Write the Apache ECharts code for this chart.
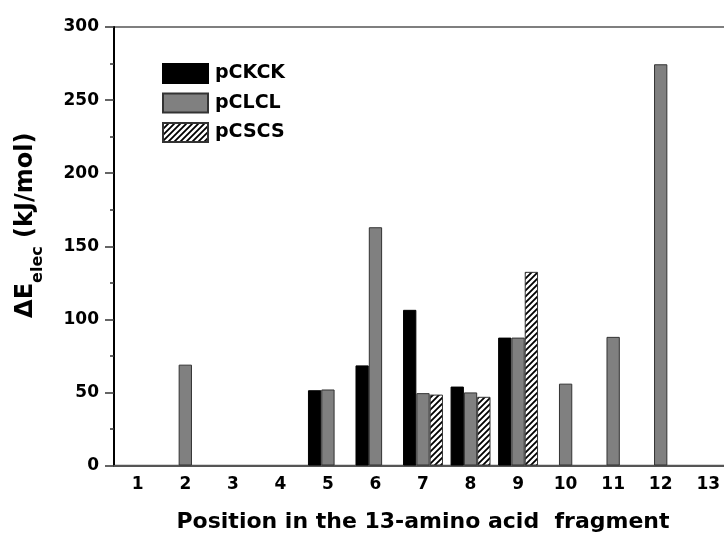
<!DOCTYPE html>
<html lang="en">
<head>
  <meta charset="UTF-8">
  <title>ΔE elec by position</title>
  <script src="https://cdn.jsdelivr.net/npm/echarts@6/dist/echarts.min.js"></script>
  <style>
    body { margin: 0; padding: 0; background: #fff; }
    #chart { width: 724px; height: 537px; }
  </style>
</head>
<body>
<div id="chart"></div>
<script>
  // positions along the 13-amino acid fragment
  const positions = ['1', '2', '3', '4', '5', '6', '7', '8', '9', '10', '11', '12', '13'];
  const seriesNames = ['pCKCK', 'pCLCL', 'pCSCS'];
  // ΔE elec values (kJ/mol), null = no bar
  const pCKCK = [null, null, null, null, 51.5, 68.5, 106.5, 54, 87.5, null, null, null, null];
  const pCLCL = [null, 69, null, null, 52, 163, 49.5, 50, 87.5, 56, 88, 274.5, null];
  const pCSCS = [null, null, null, null, null, null, 48.5, 47, 132.5, null, null, null, null];

  // hatch pattern for pCSCS
  const hatch = document.createElement('canvas');
  hatch.width = 6;
  hatch.height = 6;
  const ctx = hatch.getContext('2d');
  ctx.fillStyle = '#fff';
  ctx.fillRect(0, 0, 6, 6);
  ctx.strokeStyle = '#000';
  ctx.lineWidth = 1.8;
  ctx.beginPath();
  ctx.moveTo(-1, 7); ctx.lineTo(7, -1);
  ctx.moveTo(-1, 1); ctx.lineTo(1, -1);
  ctx.moveTo(5, 7); ctx.lineTo(7, 5);
  ctx.stroke();

  const font = '"DejaVu Sans", Arial, sans-serif';
  const chart = echarts.init(document.getElementById('chart'));

  chart.setOption({
    animation: false,
    textStyle: { fontFamily: font },
    grid: {
      left: 114, top: 27, width: 618, height: 438.5,
      outerBoundsMode: 'none',
      show: true, borderColor: '#555', borderWidth: 1.5
    },
    legend: {
      orient: 'vertical',
      left: 157, top: 58,
      itemWidth: 45, itemHeight: 19, itemGap: 8.5,
      icon: 'rect',
      textStyle: { fontFamily: font, fontWeight: 'bold', fontSize: 19, color: '#000', padding: [0, 0, 0, 2] },
      data: seriesNames
    },
    xAxis: {
      type: 'category',
      data: positions,
      name: 'Position in the 13-amino acid  fragment',
      nameLocation: 'middle',
      nameGap: 46,
      nameTextStyle: { fontFamily: font, fontWeight: 'bold', fontSize: 22, color: '#000' },
      axisLine: { lineStyle: { color: '#555', width: 2 } },
      axisTick: { show: false },
      axisLabel: { fontFamily: font, fontWeight: 'bold', fontSize: 17, color: '#000', margin: 11 }
    },
    yAxis: {
      type: 'value',
      min: 0, max: 300, interval: 50,
      name: '{a|ΔE}{b|elec}{a| (kJ/mol)}',
      nameLocation: 'middle',
      nameRotate: 90,
      nameGap: 68,
      nameTextStyle: {
        color: '#000',
        padding: [0, 0, 0, 42],
        rich: {
          a: { fontFamily: font, fontWeight: 'bold', fontSize: 24, color: '#000', lineHeight: 32, verticalAlign: 'top' },
          b: { fontFamily: font, fontWeight: 'bold', fontSize: 16, color: '#000', lineHeight: 32, verticalAlign: 'bottom', padding: [10, 0, 0, 0] }
        }
      },
      axisLine: { show: true, lineStyle: { color: '#000', width: 2 } },
      axisTick: { show: true, length: 9, lineStyle: { color: '#333', width: 1.5 } },
      minorTick: { show: true, splitNumber: 2, length: 4, lineStyle: { color: '#333', width: 1.5 } },
      splitLine: { show: false },
      axisLabel: { fontFamily: font, fontWeight: 'bold', fontSize: 17, color: '#000', margin: 15 }
    },
    series: [
      {
        name: 'pCKCK', type: 'bar', data: pCKCK,
        barGap: '0%', barCategoryGap: '16%',
        itemStyle: { color: '#000', borderColor: '#000', borderWidth: 1 }
      },
      {
        name: 'pCLCL', type: 'bar', data: pCLCL,
        barGap: '0%', barCategoryGap: '16%',
        itemStyle: { color: '#808080', borderColor: '#333', borderWidth: 1 }
      },
      {
        name: 'pCSCS', type: 'bar', data: pCSCS,
        barGap: '0%', barCategoryGap: '16%',
        itemStyle: { color: { image: hatch, repeat: 'repeat' }, borderColor: '#333', borderWidth: 1 }
      }
    ]
  });
</script>
</body>
</html>
